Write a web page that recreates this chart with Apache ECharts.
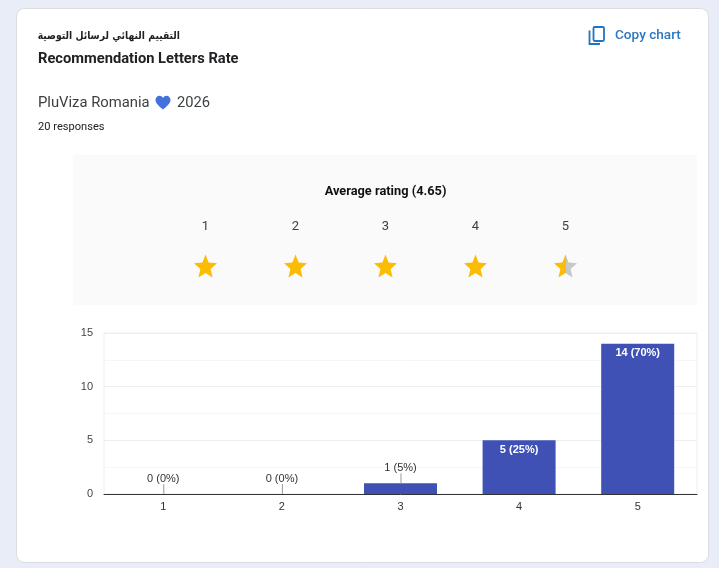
<!DOCTYPE html>
<html>
<head>
<meta charset="utf-8">
<style>html,body{margin:0;padding:0;background:#e9edf7;overflow:hidden}#c{width:719px;height:568px}</style>
<script src="https://cdn.jsdelivr.net/npm/echarts@6/dist/echarts.min.js"></script>
</head>
<body>
<div id="c"></div>
<script>
const categories = ['1', '2', '3', '4', '5'];
const counts = [0, 0, 1, 5, 14];
const percents = [0, 0, 5, 25, 70];
const starLevels = ['1', '2', '3', '4', '5'];
const starFill = [1, 1, 1, 1, 0.5];
const yTicks = { min: 0, max: 15, interval: 5 };

const GOLD = '#fbbc04', GREY = '#c8c8c8', BLUE = '#3f51b5';
const STAR = 'path://M12 0 L15.2 8.3 L24 9 L17.3 14.8 L19.4 23.5 L12 18.8 L4.6 23.5 L6.7 14.8 L0 9 L8.8 8.3 Z';
const roboto = 'Roboto, Arial, sans-serif';
const arial = '"Liberation Sans", Arial, sans-serif';

echarts.graphic.registerShape('heart', echarts.graphic.extendShape({
  shape: { x: 0, y: 0, w: 24, h: 21 },
  buildPath(ctx, s) {
    const X = v => s.x + v * s.w / 24, Y = v => s.y + v * s.h / 21;
    ctx.moveTo(X(12), Y(21));
    ctx.bezierCurveTo(X(5), Y(15.5), X(0), Y(11.5), X(0), Y(6.8));
    ctx.bezierCurveTo(X(0), Y(3), X(3), Y(0.5), X(6.3), Y(0.5));
    ctx.bezierCurveTo(X(8.6), Y(0.5), X(10.8), Y(1.8), X(12), Y(3.8));
    ctx.bezierCurveTo(X(13.2), Y(1.8), X(15.4), Y(0.5), X(17.7), Y(0.5));
    ctx.bezierCurveTo(X(21), Y(0.5), X(24), Y(3), X(24), Y(6.8));
    ctx.bezierCurveTo(X(24), Y(11.5), X(19), Y(15.5), X(12), Y(21));
    ctx.closePath();
  },
}));

function txt(x, y, text, size, weight, color, family, align) {
  return { type: 'text', x, y, z: 5, style: { text, fontSize: size, fontWeight: weight, fill: color,
    fontFamily: family || roboto, textAlign: align || 'left', textVerticalAlign: 'middle' } };
}

const chart = echarts.init(document.getElementById('c'), null, { renderer: 'canvas' });
chart.setOption({
  animation: false,
  backgroundColor: '#e9edf7',
  graphic: [
    { type: 'rect', z: -2, shape: { x: 16.5, y: 8.5, width: 692, height: 554, r: 8 },
      style: { fill: '#fff', stroke: '#dadce0', lineWidth: 1 } },
    { type: 'rect', z: -1, shape: { x: 73, y: 155, width: 624, height: 150 }, style: { fill: '#fafafa' } },
    Object.assign(txt(180, 36, 'التقييم النهائي لرسائل التوصية', 11, 'bold', '#202124', '"DejaVu Sans", sans-serif', 'right'),
      { scaleX: 0.84 }),
    txt(38, 59, 'Recommendation Letters Rate', 14.7, 'bold', '#202124'),
    txt(38, 103, 'PluViza Romania', 14.8, 'normal', '#3c4043'),
    { type: 'heart', z: 5, shape: { x: 155.5, y: 95.5, w: 15, h: 14 }, style: { fill: '#4372dd' } },
    txt(177, 103, '2026', 14.7, 'normal', '#3c4043'),
    txt(38, 127, '20 responses', 11.1, 'normal', '#202124'),
    { type: 'rect', z: 5, shape: { x: 593.5, y: 27, width: 10.5, height: 14, r: 1.2 }, style: { fill: 'none', stroke: '#1f74c4', lineWidth: 1.8 } },
    { type: 'polyline', z: 5, shape: { points: [[589.5, 30.5], [589.5, 44], [600, 44]] }, style: { fill: 'none', stroke: '#1f74c4', lineWidth: 1.8 } },
    txt(615, 36, 'Copy chart', 13.6, 500, '#2a78c2'),
    txt(385.5, 191.5, 'Average rating (4.65)', 12.8, 'bold', '#111', roboto, 'center'),
  ],
  grid: [
    { left: 104, top: 333, width: 593, height: 161, show: true, borderColor: '#eeeeee', borderWidth: 1, backgroundColor: '#fff' },
    { left: 160.5, top: 240, width: 450, height: 52 },
  ],
  xAxis: [
    { type: 'category', gridIndex: 0, data: categories, axisTick: { show: false },
      axisLine: { lineStyle: { color: '#333', width: 1 } },
      axisLabel: { color: '#333', fontSize: 11, fontFamily: arial, margin: 7 } },
    { type: 'category', gridIndex: 1, data: starLevels, position: 'top', axisTick: { show: false }, axisLine: { show: false },
      axisLabel: { color: '#3c4043', fontSize: 13, fontFamily: roboto, margin: 7 } },
  ],
  yAxis: [
    { type: 'value', gridIndex: 0, min: yTicks.min, max: yTicks.max, interval: yTicks.interval,
      axisLine: { show: false }, axisTick: { show: false },
      axisLabel: { color: '#444', fontSize: 11, fontFamily: arial, margin: 11, padding: [2, 0, 0, 0] },
      splitLine: { lineStyle: { color: '#eeeeee', width: 1 } },
      minorTick: { show: false, splitNumber: 2 },
      minorSplitLine: { show: true, lineStyle: { color: '#f6f6f6', width: 1 } } },
    { type: 'value', gridIndex: 1, min: -1, max: 1, show: false },
  ],
  series: [
    {
      type: 'bar', xAxisIndex: 0, yAxisIndex: 0, barWidth: 73, z: 3,
      itemStyle: { color: BLUE },
      data: counts.map((v, i) => ({
        value: v,
        label: v >= 5
          ? { show: true, position: 'insideTop', distance: 4, color: '#fff', fontWeight: 'bold' }
          : { show: true, position: 'top', distance: 10, color: '#333' },
      })),
      label: { fontSize: 11, fontFamily: arial,
        formatter: p => counts[p.dataIndex] + ' (' + percents[p.dataIndex] + '%)' },
    },
    {
      type: 'custom', xAxisIndex: 0, yAxisIndex: 0, z: 4, silent: true,
      data: counts.map((v, i) => [i, v]).filter(d => d[1] < 5),
      renderItem: (params, api) => {
        const p = api.coord([api.value(0), api.value(1)]);
        return { type: 'line', shape: { x1: p[0] + 0.5, y1: p[1] - 10, x2: p[0] + 0.5, y2: p[1] },
          style: { stroke: '#999', lineWidth: 1 } };
      },
    },
    {
      type: 'scatter', xAxisIndex: 1, yAxisIndex: 1, symbol: STAR, symbolSize: 23, z: 4, silent: true,
      data: starFill.map((f, i) => ({
        value: [i, 0],
        itemStyle: { color: f >= 1 ? GOLD : new echarts.graphic.LinearGradient(0, 0, 1, 0, [
          { offset: 0, color: GOLD }, { offset: f, color: GOLD },
          { offset: f, color: GREY }, { offset: 1, color: GREY },
        ]), opacity: 1 },
      })),
    },
  ],
});
</script>
</body>
</html>
